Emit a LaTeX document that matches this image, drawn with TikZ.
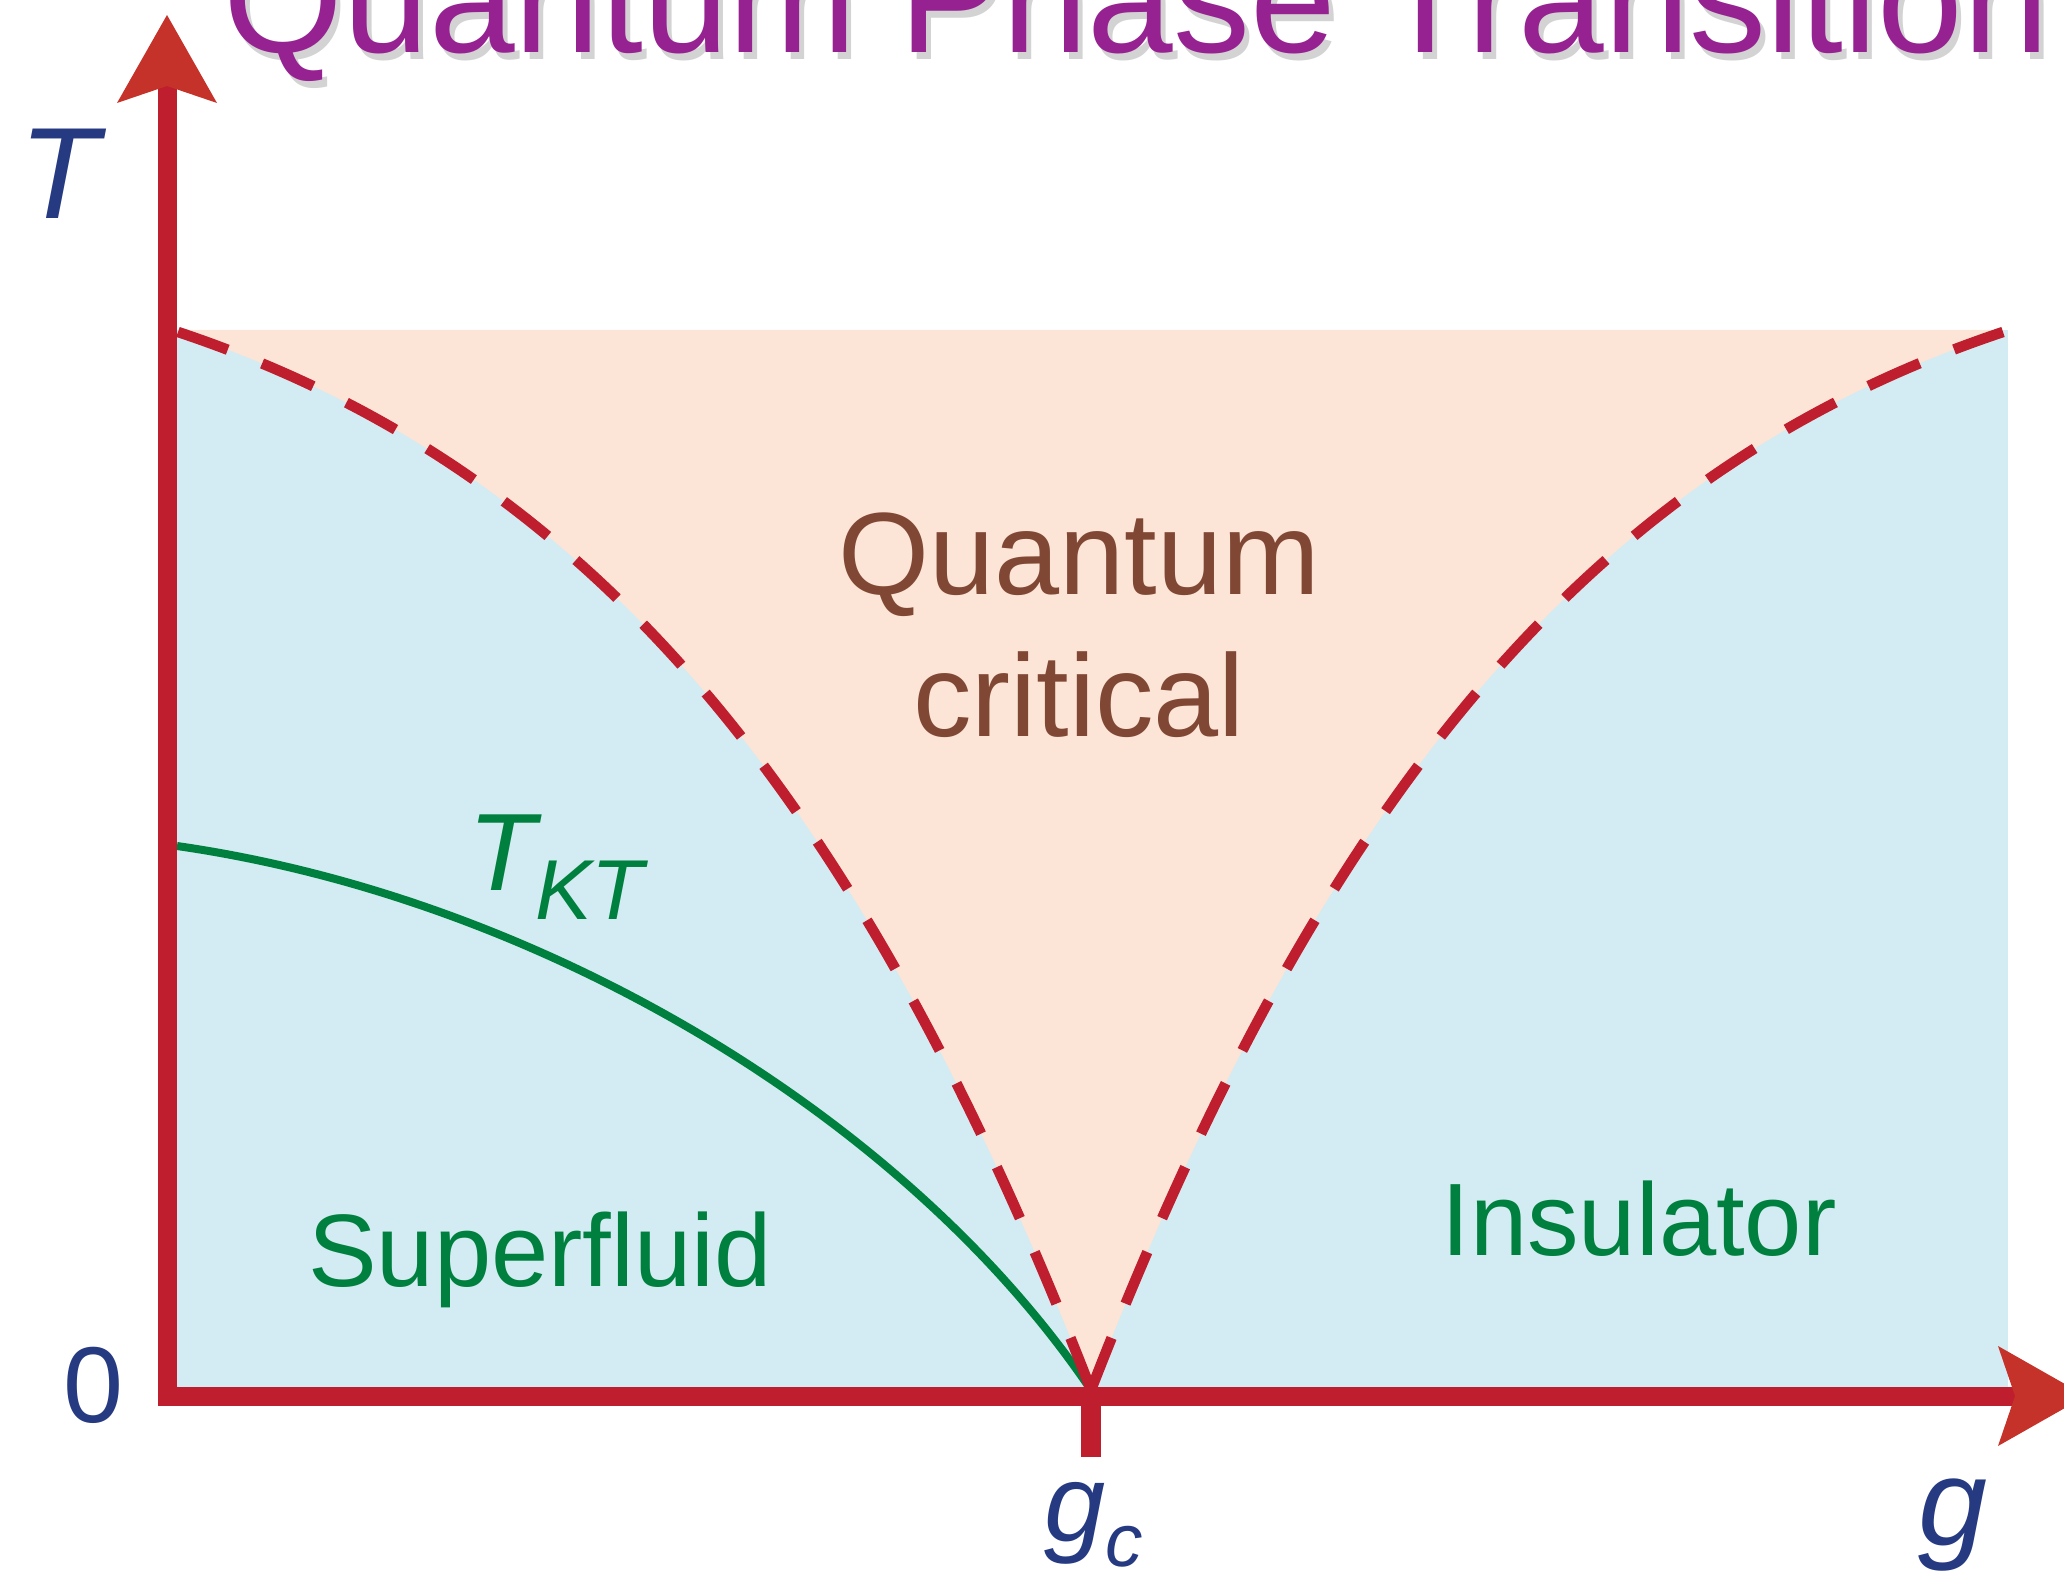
\documentclass[tikz,border=0pt]{standalone}
\usepackage{fontspec}
\setmainfont{Liberation Sans}
\usepackage{xcolor}
\usepackage{tikz}
\usetikzlibrary{
	arrows.meta,
	calc
}

\definecolor{axisred}{RGB}{190,30,45}
\definecolor{tipred}{RGB}{196,50,42}
\definecolor{orderblue}{RGB}{211,235,242}
\definecolor{critpeach}{RGB}{252,228,214}
\definecolor{ktgreen}{RGB}{0,128,62}
\definecolor{labelnavy}{RGB}{38,58,130}
\definecolor{qcbrown}{RGB}{128,72,52}
\definecolor{titlepurple}{RGB}{150,34,145}

\tikzset{
	>={Stealth[length=0.88cm, width=1.0cm, inset=0.17cm, line width=0pt, color=tipred]},
	axisline/.style={line width=0.19cm, draw=axisred, line join=miter},
	crossover/.style={line width=0.105cm, draw=axisred, dash pattern=on 0.56cm off 0.37cm},
	ktline/.style={line width=0.08cm, draw=ktgreen},
	axislabel/.style={inner sep=0pt, text=labelnavy},
	phaselabel/.style={inner sep=0pt, text=ktgreen, font=\fontsize{29.3pt}{29.3pt}\selectfont},
	critlabel/.style={inner sep=0pt, text=qcbrown, font=\fontsize{33.3pt}{33.3pt}\selectfont}
}

\begin{document}
\begin{tikzpicture}
		\useasboundingbox (0,0) rectangle (20.64,15.78);
		\coordinate (O) at (1.67,1.82);
		\coordinate (Ytip) at (1.67,15.63);
		\coordinate (Xtip) at (20.86,1.82);
		\coordinate (gc) at (10.91,1.88);
		\coordinate (gctick) at (10.91,1.21);
		\coordinate (CL) at (1.78,12.46);
		\coordinate (CR) at (20.03,12.46);
		\coordinate (K0) at (1.77,7.32);
		% phase regions
		\fill[orderblue] (O) rectangle (20.08,12.48);
		\fill[critpeach] (gc) .. controls (8.56,7.94) and (5.83,11.11) .. (CL)
			-- (1.78,12.48) -- (20.03,12.48) -- (CR)
			.. controls (15.99,11.11) and (13.26,7.94) .. (gc) -- cycle;
		% boundaries
		\draw[ktline] (K0) .. controls (5.39,6.80) and (9.05,4.63) .. (gc);
		\draw[crossover] (gc) .. controls (8.56,7.94) and (5.83,11.11) .. (CL);
		\draw[crossover] (gc) .. controls (13.26,7.94) and (15.99,11.11) .. (CR);
		% axes
		\draw[axisline, <->] (Ytip) -- (O) -- (Xtip);
		\draw[axisline, line width=0.2cm] (gc) -- (gctick);
		% labels
		\node[axislabel, anchor=base, font=\fontsize{37pt}{37pt}\selectfont\itshape] (tlabel) at (0.59,13.59) {T};
		\node[axislabel, anchor=base, font=\fontsize{30.7pt}{30.7pt}\selectfont] (zerolabel) at (0.94,1.56) {0};
		\node[axislabel, anchor=base, font=\fontsize{35.3pt}{35.3pt}\selectfont\itshape] (glabel) at (19.53,0.33) {g};
		\node[axislabel, anchor=base, font=\fontsize{31.3pt}{31.3pt}\selectfont\itshape] (gclabel) at (10.94,0.37)
			{g\raisebox{-7.2pt}{\fontsize{21.3pt}{21.3pt}\selectfont c}};
		\node[inner sep=0pt, anchor=base, text=ktgreen, font=\fontsize{31.3pt}{31.3pt}\selectfont\itshape] (tktlabel) at (5.56,6.88)
			{T\raisebox{-8.5pt}{\fontsize{24.2pt}{24.2pt}\selectfont KT}};
		\node[critlabel, anchor=base] (qcone) at (10.79,9.83) {Quantum};
		\node[critlabel, anchor=base] (qctwo) at (10.79,8.41) {critical};
		\node[phaselabel, anchor=base] (sflabel) at (5.40,2.92) {Superfluid};
		\node[phaselabel, anchor=base] (inslabel) at (16.39,3.23) {Insulator};
		\node[inner sep=0pt, anchor=base west, text=gray, opacity=0.35, font=\fontsize{43.8pt}{43.8pt}\selectfont] (titleshadow) at (2.28,15.18) {Quantum Phase Transition};
		\node[inner sep=0pt, anchor=base west, text=titlepurple, font=\fontsize{43.8pt}{43.8pt}\selectfont] (title) at (2.23,15.25) {Quantum Phase Transition};
\end{tikzpicture}
\end{document}
